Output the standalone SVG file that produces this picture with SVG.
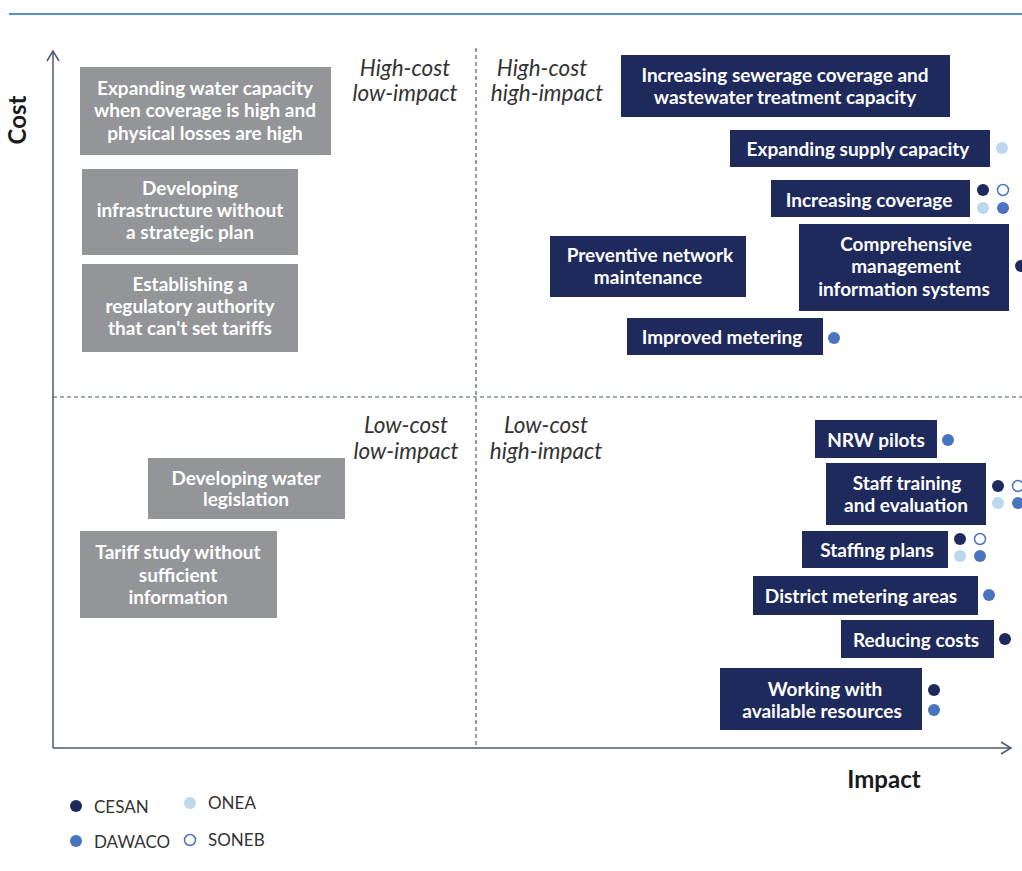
<svg xmlns="http://www.w3.org/2000/svg" width="1022" height="871" viewBox="0 0 1022 871">
<defs>
<style>
.g{fill:#939598}
.n{fill:#1e295c}
.bt{font-family:Lato,"Open Sans",sans-serif;font-weight:bold;font-size:19px;fill:#fff;text-anchor:middle}
.q{font-family:Lato,"Open Sans",sans-serif;font-style:italic;font-size:22.5px;fill:#333;text-anchor:middle}
.ax{font-family:Lato,"Open Sans",sans-serif;font-weight:bold;font-size:24px;fill:#1a1a1a}
.lg{font-family:Lato,"Open Sans",sans-serif;font-size:17px;fill:#333}
.cesan{fill:#1e295c}
.dawaco{fill:#4a74bf}
.onea{fill:#bcd7ee}
.soneb{fill:#fff;stroke:#4a74bf;stroke-width:1.5}
.axis{stroke:#4b5a70;stroke-width:1.5;fill:none}
.dash{stroke:#4b5a70;stroke-width:1.2;stroke-dasharray:4 3;fill:none}
</style>
</defs>
<rect width="1022" height="871" fill="#fff"/>
<line x1="9" y1="14" x2="1022" y2="14" stroke="#1a6ea8" stroke-width="1.5"/>
<g id="connectors">
<line class="axis" x1="53" y1="51" x2="53" y2="748"/>
<polyline class="axis" points="47,61 53,51 59,61"/>
<line class="axis" x1="53" y1="748" x2="1011" y2="748"/>
<polyline class="axis" points="1001,742 1011,748 1001,754"/>
<line class="dash" x1="476" y1="48" x2="476" y2="748"/>
<line class="dash" x1="53" y1="397" x2="1022" y2="397"/>
</g>
<g id="labels">
<text class="ax" transform="translate(26,120) rotate(-90)" text-anchor="middle">Cost</text>
<text class="ax" x="884" y="788" text-anchor="middle">Impact</text>
<text class="q" x="405" y="76">High-cost</text>
<text class="q" x="405" y="101">low-impact</text>
<text class="q" x="542" y="76">High-cost</text>
<text class="q" x="547" y="101">high-impact</text>
<text class="q" x="406" y="433">Low-cost</text>
<text class="q" x="406" y="459">low-impact</text>
<text class="q" x="546" y="433">Low-cost</text>
<text class="q" x="546" y="459">high-impact</text>
</g>
<g id="n1"><rect class="g" x="80" y="67" width="251" height="88"/><text class="bt"><tspan x="205" y="95">Expanding water capacity</tspan><tspan x="205" y="117">when coverage is high and</tspan><tspan x="205" y="140">physical losses are high</tspan></text></g>
<g id="n2"><rect class="g" x="82" y="169" width="216" height="86"/><text class="bt"><tspan x="190" y="195">Developing</tspan><tspan x="190" y="217">infrastructure without</tspan><tspan x="190" y="239">a strategic plan</tspan></text></g>
<g id="n3"><rect class="g" x="82" y="264" width="216" height="88"/><text class="bt"><tspan x="190" y="291">Establishing a</tspan><tspan x="190" y="313">regulatory authority</tspan><tspan x="190" y="335">that can't set tariffs</tspan></text></g>
<g id="n4"><rect class="g" x="148" y="458" width="197" height="61"/><text class="bt"><tspan x="246" y="485">Developing water</tspan><tspan x="246" y="506">legislation</tspan></text></g>
<g id="n5"><rect class="g" x="80" y="531" width="197" height="87"/><text class="bt"><tspan x="178" y="559">Tariff study without</tspan><tspan x="178" y="582">sufficient</tspan><tspan x="178" y="604">information</tspan></text></g>
<g id="n6"><rect class="n" x="621" y="55" width="329" height="62"/><text class="bt"><tspan x="785" y="82">Increasing sewerage coverage and</tspan><tspan x="785" y="104">wastewater treatment capacity</tspan></text></g>
<g id="n7"><rect class="n" x="730" y="130" width="260" height="37"/><text class="bt" x="858" y="156">Expanding supply capacity</text><circle class="onea" cx="1002" cy="148" r="6"/></g>
<g id="n8"><rect class="n" x="771" y="180" width="199" height="37"/><text class="bt" x="869" y="207">Increasing coverage</text><circle class="cesan" cx="983" cy="190" r="6"/><circle class="soneb" cx="1003" cy="190" r="5.5"/><circle class="onea" cx="983" cy="208" r="6"/><circle class="dawaco" cx="1003" cy="208" r="6"/></g>
<g id="n9"><rect class="n" x="550" y="236" width="196" height="61"/><text class="bt"><tspan x="650" y="262">Preventive network</tspan><tspan x="648" y="284">maintenance</tspan></text></g>
<g id="n10"><rect class="n" x="799" y="224" width="210" height="87"/><text class="bt"><tspan x="906" y="251">Comprehensive</tspan><tspan x="906" y="273">management</tspan><tspan x="904" y="296">information systems</tspan></text><circle class="cesan" cx="1021" cy="266" r="6"/></g>
<g id="n11"><rect class="n" x="627" y="318" width="196" height="37"/><text class="bt" x="722" y="344">Improved metering</text><circle class="dawaco" cx="834" cy="338" r="6"/></g>
<g id="n12"><rect class="n" x="815" y="420" width="122" height="38"/><text class="bt" x="876" y="447">NRW pilots</text><circle class="dawaco" cx="948" cy="440" r="6"/></g>
<g id="n13"><rect class="n" x="826" y="463" width="160" height="62"/><text class="bt"><tspan x="907" y="490">Staff training</tspan><tspan x="906" y="512">and evaluation</tspan></text><circle class="cesan" cx="998" cy="486" r="6"/><circle class="soneb" cx="1018" cy="486" r="5.5"/><circle class="onea" cx="998" cy="503" r="6"/><circle class="dawaco" cx="1018" cy="503" r="6"/></g>
<g id="n14"><rect class="n" x="802" y="531" width="146" height="37"/><text class="bt" x="877" y="557">Staffing plans</text><circle class="cesan" cx="960" cy="539" r="6"/><circle class="soneb" cx="980" cy="539" r="5.5"/><circle class="onea" cx="960" cy="556" r="6"/><circle class="dawaco" cx="980" cy="556" r="6"/></g>
<g id="n15"><rect class="n" x="753" y="576" width="225" height="39"/><text class="bt" x="861" y="603">District metering areas</text><circle class="dawaco" cx="989" cy="595" r="6"/></g>
<g id="n16"><rect class="n" x="841" y="620" width="153" height="38"/><text class="bt" x="916" y="647">Reducing costs</text><circle class="cesan" cx="1005" cy="639" r="6"/></g>
<g id="n17"><rect class="n" x="720" y="668" width="202" height="62"/><text class="bt"><tspan x="825" y="696">Working with</tspan><tspan x="822" y="718">available resources</tspan></text><circle class="cesan" cx="934" cy="690" r="6"/><circle class="dawaco" cx="934" cy="710" r="6"/></g>
<g id="legend">
<circle class="cesan" cx="76" cy="806" r="6"/><text class="lg" x="94" y="813">CESAN</text>
<circle class="onea" cx="190" cy="803" r="6"/><text class="lg" x="208" y="809">ONEA</text>
<circle class="dawaco" cx="76" cy="841" r="6"/><text class="lg" x="94" y="848">DAWACO</text>
<circle class="soneb" cx="190" cy="840" r="5.5"/><text class="lg" x="208" y="846">SONEB</text>
</g>
</svg>
